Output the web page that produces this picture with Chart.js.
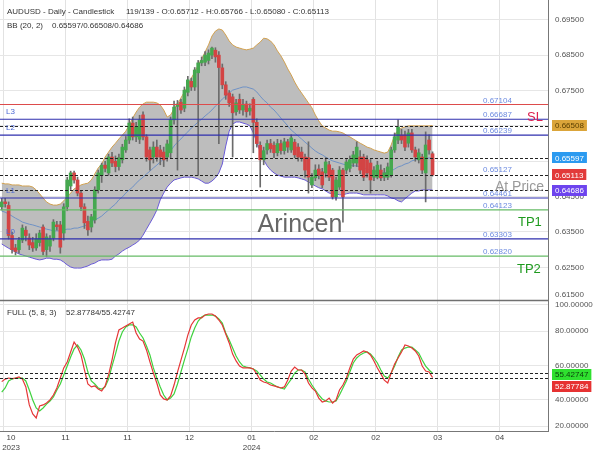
<!DOCTYPE html>
<html><head><meta charset="utf-8">
<script src="https://cdn.jsdelivr.net/npm/chart.js@4.4.1/dist/chart.umd.min.js"></script>
<style>html,body{margin:0;padding:0;background:#fff;}canvas{display:block;}</style>
</head><body>
<canvas id="c" width="600" height="450"></canvas>
<script>
// ---------------- DATA ----------------
const xTickLabels = [['10','2023'],'11','11','12',['01','2024'],'02','02','03','04'];

const open = [
0.6421,0.6435,0.6425,0.6340,0.6305,0.6300,0.6327,0.6355,0.6333,0.6320,
0.6305,0.6320,0.6364,0.6300,0.6310,0.6333,0.6370,0.6370,0.6347,0.6421,
0.6480,0.6517,0.6497,0.6460,0.6421,0.6380,0.6364,0.6384,0.6469,0.6510,
0.6539,0.6517,0.6562,0.6550,0.6535,0.6554,0.6582,0.6610,0.6658,0.6619,
0.6612,0.6681,0.6619,0.6582,0.6562,0.6590,0.6582,0.6576,0.6562,0.6574,
0.6667,0.6705,0.6717,0.6700,0.6745,0.6776,0.6760,0.6800,0.6828,0.6830,
0.6835,0.6850,0.6864,0.6850,0.6814,0.6766,0.6743,0.6732,0.6690,0.6725,
0.6695,0.6712,0.6692,0.6725,0.6660,0.6595,0.6554,0.6582,0.6600,0.6595,
0.6574,0.6600,0.6580,0.6605,0.6582,0.6604,0.6590,0.6576,0.6562,0.6560,
0.6483,0.6503,0.6528,0.6520,0.6517,0.6540,0.6525,0.6449,0.6477,0.6525,
0.6525,0.6530,0.6545,0.6545,0.6562,0.6562,0.6554,0.6545,0.6505,0.6505,
0.6525,0.6505,0.6505,0.6511,0.6582,0.6610,0.6624,0.6624,0.6601,0.6630,
0.6582,0.6554,0.6562,0.6517,0.6610,0.65712];
const high = [
0.6445,0.6445,0.6435,0.6350,0.6315,0.6335,0.6370,0.6365,0.6345,0.6335,
0.6345,0.6355,0.6370,0.6345,0.6340,0.6385,0.6380,0.6380,0.6430,0.6505,
0.6522,0.6522,0.6505,0.6468,0.6430,0.6395,0.6400,0.6478,0.6525,0.6545,
0.6550,0.6570,0.6575,0.6565,0.6570,0.6598,0.6620,0.6670,0.6675,0.6660,
0.6680,0.6690,0.6625,0.6590,0.6605,0.6610,0.6595,0.6590,0.6610,0.6675,
0.6720,0.6722,0.6725,0.6760,0.6790,0.6785,0.6815,0.6835,0.6845,0.6860,
0.6865,0.6873,0.6871,0.6860,0.6825,0.6775,0.6750,0.6740,0.6725,0.6740,
0.6725,0.6720,0.6712,0.6730,0.6670,0.6605,0.6590,0.6610,0.6612,0.6605,
0.6612,0.6610,0.6615,0.6612,0.6625,0.6612,0.6600,0.6590,0.6570,0.6605,
0.6515,0.6540,0.6540,0.6530,0.6560,0.6550,0.6530,0.6505,0.6535,0.6530,
0.6555,0.6565,0.6578,0.6605,0.6580,0.6570,0.6565,0.6555,0.6535,0.6550,
0.6540,0.6530,0.6545,0.6590,0.6630,0.6667,0.6640,0.6635,0.6640,0.6640,
0.6590,0.6585,0.6570,0.6633,0.6625,0.65766];
const low = [
0.6412,0.6420,0.6330,0.6290,0.6285,0.6290,0.6320,0.6325,0.6300,0.6295,
0.6298,0.6310,0.6285,0.6280,0.6295,0.6325,0.6355,0.6290,0.6327,0.6410,
0.6470,0.6488,0.6452,0.6410,0.6360,0.6340,0.6350,0.6375,0.6460,0.6490,
0.6520,0.6510,0.6535,0.6520,0.6525,0.6545,0.6575,0.6600,0.6610,0.6605,
0.6600,0.6610,0.6550,0.6525,0.6545,0.6550,0.6540,0.6535,0.6550,0.6560,
0.6655,0.6525,0.6685,0.6690,0.6735,0.6750,0.6750,0.6510,0.6820,0.6820,
0.6825,0.6840,0.6830,0.6600,0.6755,0.6725,0.6705,0.6562,0.6680,0.6685,
0.6680,0.6675,0.6680,0.6574,0.6590,0.6477,0.6540,0.6570,0.6575,0.6560,
0.6565,0.6570,0.6570,0.6575,0.6575,0.6560,0.6550,0.6550,0.6505,0.6460,
0.6475,0.6495,0.6500,0.6475,0.6505,0.6495,0.6443,0.6440,0.6470,0.6378,
0.6515,0.6520,0.6535,0.6535,0.6515,0.6495,0.6505,0.6460,0.6495,0.6500,
0.6495,0.6495,0.6498,0.6505,0.6575,0.6600,0.6600,0.6580,0.6590,0.6575,
0.6550,0.6545,0.6515,0.6435,0.6570,0.65080];
const close = [
0.6435,0.6430,0.6340,0.6300,0.6295,0.6327,0.6361,0.6340,0.6313,0.6305,
0.6330,0.6347,0.6295,0.6336,0.6330,0.6378,0.6365,0.6307,0.6421,0.6497,
0.6517,0.6497,0.6460,0.6421,0.6376,0.6356,0.6393,0.6469,0.6517,0.6539,
0.6530,0.6562,0.6545,0.6535,0.6560,0.6590,0.6610,0.6658,0.6619,0.6647,
0.6667,0.6619,0.6562,0.6554,0.6590,0.6562,0.6562,0.6554,0.6599,0.6667,
0.6703,0.6712,0.6695,0.6751,0.6780,0.6760,0.6808,0.6828,0.6835,0.6850,
0.6856,0.6870,0.6845,0.6815,0.6766,0.6737,0.6715,0.6687,0.6715,0.6695,
0.6710,0.6690,0.6700,0.6660,0.6600,0.6554,0.6580,0.6600,0.6585,0.6574,
0.6600,0.6580,0.6605,0.6590,0.6616,0.6568,0.6562,0.6559,0.6525,0.6505,
0.6505,0.6525,0.6510,0.6483,0.6548,0.6505,0.6449,0.6497,0.6525,0.6449,
0.6548,0.6554,0.6568,0.6590,0.6525,0.6505,0.6517,0.6497,0.6525,0.6539,
0.6503,0.6517,0.6534,0.6582,0.6619,0.6647,0.6610,0.6590,0.6630,0.6582,
0.6562,0.6574,0.6525,0.6596,0.6582,0.65113];

const bbUpper = [
0.6488,0.6486,0.6486,0.6483,0.6483,0.6483,0.6480,0.6480,0.6480,0.6477,
0.6469,0.6458,0.6446,0.6435,0.6429,0.6426,0.6426,0.6429,0.6438,0.6449,
0.6460,0.6472,0.6477,0.6483,0.6486,0.6488,0.6497,0.6514,0.6531,0.6542,
0.6562,0.6576,0.6590,0.6601,0.6613,0.6624,0.6635,0.6652,0.6672,0.6689,
0.6703,0.6712,0.6717,0.6717,0.6717,0.6715,0.6709,0.6695,0.6675,0.6681,
0.6698,0.6712,0.6729,0.6746,0.6763,0.6785,0.6802,0.6822,0.6839,0.6859,
0.6879,0.6904,0.6918,0.6924,0.6921,0.6907,0.6890,0.6879,0.6873,0.6870,
0.6867,0.6865,0.6867,0.6870,0.6879,0.6887,0.6898,0.6896,0.6890,0.6879,
0.6862,0.6848,0.6831,0.6811,0.6794,0.6774,0.6757,0.6743,0.6729,0.6715,
0.6701,0.6681,0.6664,0.6650,0.6644,0.6638,0.6635,0.6635,0.6633,0.6630,
0.6624,0.6619,0.6613,0.6607,0.6601,0.6596,0.6590,0.6587,0.6582,0.6579,
0.6576,0.6573,0.6576,0.6596,0.6624,0.6638,0.6644,0.6647,0.6650,0.6650,
0.6650,0.6650,0.6650,0.6650,0.6650,0.66508];
const bbMiddle = [
0.6409,0.6406,0.6401,0.6395,0.6389,0.6384,0.6378,0.6375,0.6372,0.6370,
0.6367,0.6364,0.6361,0.6358,0.6356,0.6353,0.6353,0.6353,0.6356,0.6358,
0.6358,0.6361,0.6361,0.6364,0.6367,0.6372,0.6378,0.6384,0.6389,0.6395,
0.6404,0.6412,0.6421,0.6429,0.6441,0.6449,0.6460,0.6469,0.6477,0.6488,
0.6497,0.6505,0.6514,0.6522,0.6531,0.6539,0.6548,0.6556,0.6568,0.6579,
0.6593,0.6604,0.6613,0.6624,0.6633,0.6644,0.6652,0.6661,0.6669,0.6678,
0.6686,0.6695,0.6706,0.6715,0.6726,0.6734,0.6743,0.6751,0.6754,0.6757,
0.6760,0.6760,0.6757,0.6754,0.6746,0.6734,0.6723,0.6715,0.6703,0.6695,
0.6684,0.6672,0.6661,0.6650,0.6638,0.6630,0.6621,0.6613,0.6604,0.6596,
0.6587,0.6579,0.6573,0.6568,0.6562,0.6556,0.6551,0.6548,0.6545,0.6542,
0.6539,0.6539,0.6537,0.6537,0.6534,0.6531,0.6528,0.6525,0.6522,0.6520,
0.6517,0.6517,0.6520,0.6522,0.6528,0.6534,0.6537,0.6542,0.6545,0.6551,
0.6554,0.6556,0.6556,0.6559,0.6559,0.65597];
const bbLower = [
0.6316,0.6310,0.6304,0.6299,0.6293,0.6288,0.6285,0.6282,0.6279,0.6276,
0.6273,0.6271,0.6273,0.6276,0.6276,0.6273,0.6273,0.6271,0.6265,0.6257,
0.6251,0.6248,0.6248,0.6248,0.6251,0.6254,0.6259,0.6262,0.6268,0.6271,
0.6271,0.6271,0.6273,0.6282,0.6288,0.6296,0.6302,0.6307,0.6313,0.6319,
0.6327,0.6341,0.6358,0.6375,0.6392,0.6412,0.6441,0.6460,0.6477,0.6488,
0.6497,0.6500,0.6503,0.6505,0.6505,0.6505,0.6503,0.6500,0.6494,0.6488,
0.6488,0.6494,0.6503,0.6517,0.6542,0.6593,0.6635,0.6655,0.6661,0.6661,
0.6658,0.6655,0.6650,0.6630,0.6604,0.6576,0.6554,0.6537,0.6525,0.6517,
0.6511,0.6508,0.6505,0.6505,0.6505,0.6505,0.6503,0.6500,0.6497,0.6491,
0.6486,0.6480,0.6475,0.6472,0.6466,0.6460,0.6458,0.6458,0.6455,0.6455,
0.6458,0.6460,0.6460,0.6460,0.6458,0.6455,0.6455,0.6455,0.6455,0.6455,
0.6455,0.6455,0.6452,0.6446,0.6444,0.6438,0.6435,0.6444,0.6452,0.6460,
0.6466,0.6466,0.6469,0.6469,0.6469,0.64686];

const stochK = [
50.5,52.0,52.6,52.3,52.6,53.2,52.0,47.4,36.9,31.6,
29.3,36.3,36.9,38.0,39.8,42.7,46.8,52.6,58.5,62.0,
67.8,73.6,70.7,66.1,57.3,49.1,47.4,48.0,46.2,45.0,
48.0,54.4,63.1,73.1,80.7,81.8,83.0,84.2,85.3,78.9,
75.4,74.2,69.0,62.0,55.5,49.7,42.7,40.4,39.8,42.1,
48.5,56.1,63.1,70.1,77.7,83.6,86.5,87.7,87.7,89.4,
90.0,90.0,88.8,86.5,83.6,78.3,73.1,66.6,62.6,59.6,
58.5,58.5,58.5,57.9,55.0,51.4,50.3,49.7,48.5,48.0,
47.4,46.8,47.4,51.4,56.7,59.0,57.3,57.3,55.0,49.7,
46.8,45.0,40.9,38.6,39.2,40.9,38.0,39.8,45.6,48.5,
52.6,58.5,63.7,66.1,67.2,68.4,67.8,66.1,62.6,58.5,
55.0,51.4,49.7,55.5,60.8,64.3,67.8,71.9,71.3,70.1,
68.4,65.5,59.6,56.7,56.1,52.87784];
const stochD = [
44.4,46.8,50.9,52.0,52.6,52.6,52.6,50.9,45.6,39.8,
35.1,33.4,35.1,37.4,39.2,41.5,45.6,49.1,54.4,59.6,
64.9,69.6,71.9,69.0,63.7,56.1,50.9,49.1,46.8,46.2,
47.4,52.0,59.6,66.6,74.2,79.5,82.4,83.6,83.6,82.4,
78.9,76.0,71.3,66.1,58.5,52.6,47.4,42.7,39.8,40.9,
43.3,49.1,56.1,63.1,69.6,76.6,81.8,85.9,88.2,89.4,
89.4,89.4,88.8,87.1,84.7,78.9,74.8,70.1,65.5,62.0,
59.6,59.0,58.5,57.9,56.7,54.4,52.0,50.3,49.7,48.5,
47.4,46.8,46.2,49.1,52.0,55.5,57.3,57.3,56.1,52.0,
48.5,45.6,42.7,40.4,39.2,38.6,38.6,39.2,42.7,46.8,
50.9,56.1,61.4,64.3,66.1,67.2,67.8,66.6,64.3,61.4,
57.3,53.8,52.6,55.5,59.6,64.9,69.0,70.1,70.7,70.7,
69.0,67.2,63.1,59.6,57.3,55.42747];

const priceTicks = [0.695,0.690,0.685,0.680,0.675,0.670,0.665,0.660,0.655,0.650,0.645,0.640,0.635,0.630,0.625,0.620];
const stochTicks = [90,80,70,60,50,40,30];
const levelValues = [0.67104, 0.66687, 0.66239, 0.64461, 0.64123, 0.63303, 0.62820];
const levelKinds  = ['sl', 'lvl', 'lvl', 'lvl', 'tp', 'lvl', 'tp'];
const levelNames  = ['', 'L3', 'L2', 'L1', '', 'L0', ''];
const atPriceLevel = 0.65127;
const levelLabelValues = [0.67104, 0.66687, 0.66239, 0.65127, 0.64461, 0.64123, 0.63303, 0.62820];
const totalSlots = 159;

// ---------------- CHART ----------------
const FONT = '"Liberation Sans", Arial, Helvetica, sans-serif';
Chart.defaults.font.family = FONT;
Chart.defaults.font.size = 8;
Chart.defaults.color = '#555';

const N = close.length;
const last = N - 1;
const idx = close.map((_, i) => i);
const isUp = idx.map(i => close[i] >= open[i]);
const asXY = arr => arr.map((v, i) => ({x: i, y: v}));

const gridPos = [0.5, 18.5, 36.5, 54.5, 72.5, 90.5, 108.5, 126.5, 144.5];
const labelPos = [2.7, 18.5, 36.5, 54.5, 72.5, 90.5, 108.5, 126.5, 144.5];

const levelColor = {sl: '#dd4b4b', lvl: '#2f2fae', tp: '#66bb66'};

const overlay = {
  id: 'overlay',
  afterDatasetsDraw(chart) {
    const {ctx, chartArea: a, scales} = chart;
    const y = scales.y, y2 = scales.y2;
    const hline = (py, color, w, dash) => {
      ctx.save(); ctx.strokeStyle = color; ctx.lineWidth = w; ctx.setLineDash(dash || []);
      ctx.beginPath(); ctx.moveTo(a.left, py); ctx.lineTo(a.right, py); ctx.stroke(); ctx.restore();
    };
    ctx.save();
    ctx.font = '25px ' + FONT; ctx.fillStyle = 'rgba(95,95,95,0.95)';
    ctx.textAlign = 'center'; ctx.textBaseline = 'alphabetic';
    ctx.fillText('Arincen', 300, 232);
    levelValues.forEach((v, i) => hline(y.getPixelForValue(v), levelColor[levelKinds[i]], 1.2));
    [bbUpper[last], bbMiddle[last], close[last], bbLower[last]].forEach(v =>
      hline(Math.round(y.getPixelForValue(v)) + 0.5, '#222', 1, [3, 2]));
    [stochD[last], stochK[last]].forEach(v =>
      hline(Math.round(y2.getPixelForValue(v)) + 0.5, '#222', 1, [3, 2]));
    hline(y.bottom + 0.5, '#707070', 1.6);
    ctx.font = '8px ' + FONT; ctx.textAlign = 'left'; ctx.fillStyle = '#6d8be0';
    levelLabelValues.forEach(v => ctx.fillText(v.toFixed(5), 483, y.getPixelForValue(v) - 2));
    ctx.fillStyle = '#4d69d4';
    levelNames.forEach((n, i) => { if (n) ctx.fillText(n, 6, y.getPixelForValue(levelValues[i]) - 5); });
    ctx.font = '13px ' + FONT;
    ctx.fillStyle = '#dc2050'; ctx.fillText('SL', 527, y.getPixelForValue(levelValues[0]) + 16);
    ctx.fillStyle = '#1e9a1e';
    ctx.fillText('TP1', 518, y.getPixelForValue(levelValues[4]) + 16);
    ctx.fillText('TP2', 517, y.getPixelForValue(levelValues[6]) + 17);
    ctx.font = '14px ' + FONT; ctx.fillStyle = '#9a9a9a';
    ctx.fillText('At Price', 495, y.getPixelForValue(atPriceLevel) + 17);
    ctx.restore();
  },
  afterDraw(chart) {
    const {ctx, scales} = chart;
    const y = scales.y, y2 = scales.y2;
    ctx.save();
    ctx.font = '8px ' + FONT; ctx.textBaseline = 'middle'; ctx.textAlign = 'left';
    const box = (py, text, bg, fg) => {
      const w = ctx.measureText(text).width + 6;
      ctx.fillStyle = bg; ctx.fillRect(552, Math.round(py - 5.5), w, 11);
      ctx.fillStyle = fg; ctx.fillText(text, 555, py + 0.5);
    };
    box(y.getPixelForValue(bbUpper[last]), bbUpper[last].toFixed(5), '#dba53a', '#5a3f00');
    box(y.getPixelForValue(bbMiddle[last]), bbMiddle[last].toFixed(5), '#2b9af0', '#ffffff');
    box(y.getPixelForValue(close[last]), close[last].toFixed(5), '#e23a3a', '#ffffff');
    box(y.getPixelForValue(bbLower[last]), bbLower[last].toFixed(5), '#6d44ee', '#ffffff');
    const pd = y2.getPixelForValue(stochD[last]) + 1;
    const pk = Math.max(y2.getPixelForValue(stochK[last]), pd + 12.5);
    box(pd, stochD[last].toFixed(5), '#2fe02f', '#0c3d0c');
    box(pk, stochK[last].toFixed(5), '#e63232', '#ffffff');
    ctx.fillStyle = '#333'; ctx.textBaseline = 'alphabetic';
    ctx.fillText('AUDUSD - Daily - Candlestick', 7, 14);
    ctx.fillText('119/139 - O:' + open[last].toFixed(5) + ' - H:' + high[last].toFixed(5) +
      ' - L:' + low[last].toFixed(5) + ' - C:' + close[last].toFixed(5), 126, 14);
    ctx.fillText('BB (20, 2)', 7, 28);
    ctx.fillText(bbMiddle[last].toFixed(5) + '/' + bbUpper[last].toFixed(5) + '/' + bbLower[last].toFixed(5), 52, 28);
    ctx.fillText('FULL (5, 8, 3)', 7, 315);
    ctx.fillText(stochK[last].toFixed(5) + '/' + stochD[last].toFixed(5), 66, 315);
    ctx.restore();
  }
};

new Chart(document.getElementById('c'), {
  type: 'bar',
  data: {
    datasets: [
      {type: 'bar', label: 'body', data: idx.map(i => ({x: i, y: [open[i], close[i]]})),
       backgroundColor: isUp.map(u => u ? '#45a84f' : '#d34444'), borderWidth: 0,
       barThickness: 3, grouped: false, minBarLength: 1, order: 0, xAxisID: 'x', yAxisID: 'y'},
      {type: 'bar', label: 'wick', data: idx.map(i => ({x: i, y: [low[i], high[i]]})),
       backgroundColor: '#6b6b6b', borderWidth: 0, barThickness: 1, grouped: false,
       order: 1, xAxisID: 'x', yAxisID: 'y'},
      {type: 'line', label: 'BB mid', data: asXY(bbMiddle), borderColor: '#6f92c6', borderWidth: 1,
       pointRadius: 0, fill: false, order: 2, xAxisID: 'x', yAxisID: 'y'},
      {type: 'line', label: 'BB upper', data: asXY(bbUpper), borderColor: '#d2a150', borderWidth: 1,
       pointRadius: 0, fill: '+1', backgroundColor: '#bdbdbd', order: 4, xAxisID: 'x', yAxisID: 'y'},
      {type: 'line', label: 'BB lower', data: asXY(bbLower), borderColor: '#6a5bd8', borderWidth: 1,
       pointRadius: 0, fill: false, order: 3, xAxisID: 'x', yAxisID: 'y'},
      {type: 'line', label: '%D', data: asXY(stochD), borderColor: '#3ed23e', borderWidth: 1.2,
       pointRadius: 0, fill: false, order: 1, xAxisID: 'x', yAxisID: 'y2'},
      {type: 'line', label: '%K', data: asXY(stochK), borderColor: '#e53636', borderWidth: 1.2,
       pointRadius: 0, fill: false, order: 0, xAxisID: 'x', yAxisID: 'y2'}
    ]
  },
  options: {
    responsive: false, maintainAspectRatio: false, animation: false, devicePixelRatio: 1,
    layout: {padding: 0},
    plugins: {legend: {display: false}, tooltip: {enabled: false}},
    scales: {
      x: {
        type: 'linear', position: 'bottom', min: -0.5, max: totalSlots - 0.5, offset: false,
        afterBuildTicks: s => { s.ticks = gridPos.map(v => ({value: v})); },
        ticks: {display: false},
        grid: {color: '#e2e2e2', drawTicks: false, offset: false},
        border: {display: false},
        afterFit: s => { s.height = 0; s.paddingLeft = 0; s.paddingRight = 0; }
      },
      x2: {
        type: 'linear', position: 'bottom', min: -0.5, max: totalSlots - 0.5, offset: false,
        afterBuildTicks: s => { s.ticks = labelPos.map(v => ({value: v})); },
        ticks: {autoSkip: false, maxRotation: 0, padding: 2, color: '#444',
                callback: (v, i) => xTickLabels[i]},
        grid: {display: false, drawTicks: false, offset: false},
        border: {display: true, color: '#777', width: 1},
        afterFit: s => { s.height = 19; s.paddingLeft = 0; s.paddingRight = 0; }
      },
      y: {
        type: 'linear', position: 'right', stack: 'panes', stackWeight: 300,
        min: 0.61577, max: 0.70059,
        afterBuildTicks: s => { s.ticks = priceTicks.concat([0.6172]).map(v => ({value: v})); },
        ticks: {padding: 7, color: '#555', callback: v => v < 0.618 ? '0.61500' : v.toFixed(5)},
        grid: {drawTicks: false, color: c => (c.tick && c.tick.value < 0.618) ? 'rgba(0,0,0,0)' : '#e6e6e6'},
        border: {color: '#777', width: 1},
        afterFit: s => { s.width = 52; s.paddingTop = 0; s.paddingBottom = 0; }
      },
      y2: {
        type: 'linear', position: 'right', stack: 'panes', stackWeight: 131,
        min: 21.66, max: 98.18,
        afterBuildTicks: s => { s.ticks = [95.26].concat(stochTicks, [24.58]).map(v => ({value: v})); },
        ticks: {padding: 7, color: '#555',
                callback: v => v > 95 ? '100.00000' : (v < 25 ? '20.00000' : v.toFixed(5))},
        grid: {drawTicks: false, color: '#e6e6e6'},
        border: {color: '#777', width: 1},
        afterFit: s => { s.width = 52; s.paddingTop = 0; s.paddingBottom = 0; }
      }
    }
  },
  plugins: [overlay]
});
</script>
</body></html>
